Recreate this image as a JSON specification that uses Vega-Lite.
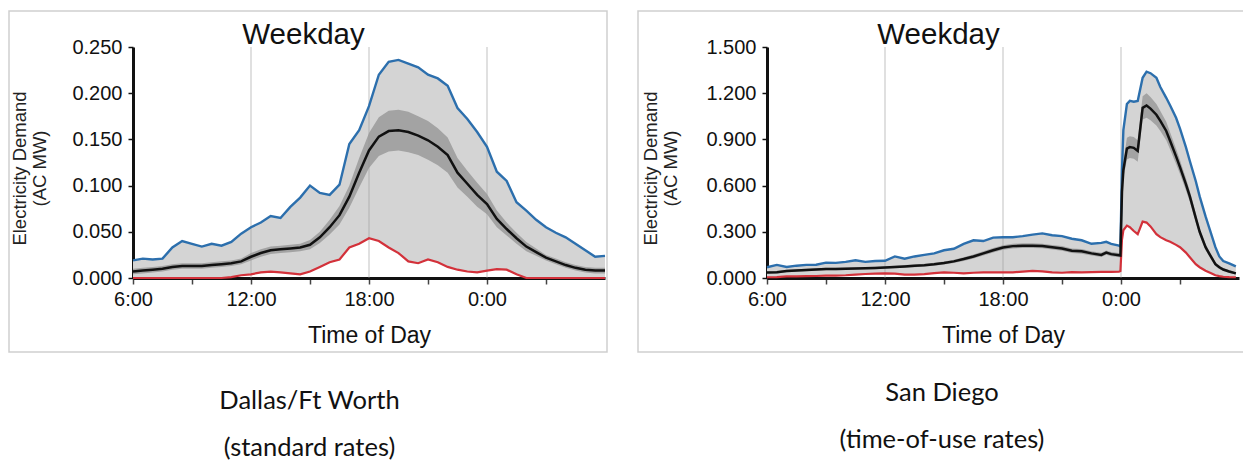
{
  "$schema": "https://vega.github.io/schema/vega-lite/v6.json",
  "padding": {"left": 8, "top": 10, "right": 0, "bottom": 0},
  "spacing": 26,
  "config": {
    "view": {"stroke": "#cfcfcf", "strokeWidth": 1.5},
    "font": "Liberation Sans"
  },
  "datasets": {
    "grid": [{"h": 12}, {"h": 18}, {"h": 24}],
    "dfw": [
      {"h": 6.0, "max": 0.019, "mean": 0.007, "lo": 0.004, "hi": 0.010, "min": 0.000},
      {"h": 6.5, "max": 0.021, "mean": 0.008, "lo": 0.005, "hi": 0.011, "min": 0.000},
      {"h": 7.0, "max": 0.020, "mean": 0.009, "lo": 0.006, "hi": 0.012, "min": 0.000},
      {"h": 7.5, "max": 0.021, "mean": 0.010, "lo": 0.007, "hi": 0.013, "min": 0.000},
      {"h": 8.0, "max": 0.033, "mean": 0.012, "lo": 0.009, "hi": 0.015, "min": 0.000},
      {"h": 8.5, "max": 0.040, "mean": 0.013, "lo": 0.010, "hi": 0.016, "min": 0.000},
      {"h": 9.0, "max": 0.037, "mean": 0.013, "lo": 0.010, "hi": 0.016, "min": 0.000},
      {"h": 9.5, "max": 0.034, "mean": 0.013, "lo": 0.010, "hi": 0.016, "min": 0.000},
      {"h": 10.0, "max": 0.037, "mean": 0.014, "lo": 0.011, "hi": 0.017, "min": 0.000},
      {"h": 10.5, "max": 0.035, "mean": 0.015, "lo": 0.012, "hi": 0.018, "min": 0.000},
      {"h": 11.0, "max": 0.039, "mean": 0.016, "lo": 0.013, "hi": 0.019, "min": 0.001},
      {"h": 11.5, "max": 0.048, "mean": 0.018, "lo": 0.015, "hi": 0.021, "min": 0.003},
      {"h": 12.0, "max": 0.055, "mean": 0.023, "lo": 0.019, "hi": 0.027, "min": 0.004},
      {"h": 12.5, "max": 0.060, "mean": 0.027, "lo": 0.023, "hi": 0.031, "min": 0.006},
      {"h": 13.0, "max": 0.067, "mean": 0.030, "lo": 0.026, "hi": 0.034, "min": 0.007},
      {"h": 13.5, "max": 0.065, "mean": 0.031, "lo": 0.027, "hi": 0.035, "min": 0.006},
      {"h": 14.0, "max": 0.077, "mean": 0.032, "lo": 0.028, "hi": 0.036, "min": 0.005},
      {"h": 14.5, "max": 0.087, "mean": 0.033, "lo": 0.029, "hi": 0.037, "min": 0.004},
      {"h": 15.0, "max": 0.100, "mean": 0.036, "lo": 0.031, "hi": 0.041, "min": 0.007},
      {"h": 15.5, "max": 0.092, "mean": 0.044, "lo": 0.038, "hi": 0.050, "min": 0.012},
      {"h": 16.0, "max": 0.090, "mean": 0.055, "lo": 0.047, "hi": 0.063, "min": 0.017},
      {"h": 16.5, "max": 0.101, "mean": 0.068, "lo": 0.058, "hi": 0.078, "min": 0.020},
      {"h": 17.0, "max": 0.145, "mean": 0.088, "lo": 0.076, "hi": 0.100, "min": 0.033},
      {"h": 17.5, "max": 0.160, "mean": 0.114, "lo": 0.098, "hi": 0.130, "min": 0.037},
      {"h": 18.0, "max": 0.186, "mean": 0.138, "lo": 0.119, "hi": 0.157, "min": 0.043},
      {"h": 18.5, "max": 0.220, "mean": 0.153, "lo": 0.132, "hi": 0.174, "min": 0.040},
      {"h": 19.0, "max": 0.234, "mean": 0.159, "lo": 0.137, "hi": 0.181, "min": 0.033},
      {"h": 19.5, "max": 0.236, "mean": 0.160, "lo": 0.138, "hi": 0.182, "min": 0.027},
      {"h": 20.0, "max": 0.232, "mean": 0.158, "lo": 0.136, "hi": 0.180, "min": 0.018},
      {"h": 20.5, "max": 0.228, "mean": 0.154, "lo": 0.133, "hi": 0.175, "min": 0.016},
      {"h": 21.0, "max": 0.220, "mean": 0.149, "lo": 0.128, "hi": 0.170, "min": 0.020},
      {"h": 21.5, "max": 0.216, "mean": 0.142, "lo": 0.122, "hi": 0.162, "min": 0.017},
      {"h": 22.0, "max": 0.208, "mean": 0.133, "lo": 0.114, "hi": 0.152, "min": 0.012},
      {"h": 22.5, "max": 0.184, "mean": 0.114, "lo": 0.098, "hi": 0.130, "min": 0.009},
      {"h": 23.0, "max": 0.172, "mean": 0.102, "lo": 0.088, "hi": 0.116, "min": 0.007},
      {"h": 23.5, "max": 0.158, "mean": 0.090, "lo": 0.077, "hi": 0.103, "min": 0.006},
      {"h": 24.0, "max": 0.142, "mean": 0.080, "lo": 0.069, "hi": 0.091, "min": 0.008},
      {"h": 24.5, "max": 0.115, "mean": 0.064, "lo": 0.055, "hi": 0.073, "min": 0.0095},
      {"h": 25.0, "max": 0.105, "mean": 0.053, "lo": 0.046, "hi": 0.060, "min": 0.009},
      {"h": 25.5, "max": 0.082, "mean": 0.043, "lo": 0.037, "hi": 0.049, "min": 0.004},
      {"h": 26.0, "max": 0.073, "mean": 0.034, "lo": 0.029, "hi": 0.039, "min": 0.000},
      {"h": 26.5, "max": 0.063, "mean": 0.028, "lo": 0.024, "hi": 0.032, "min": 0.000},
      {"h": 27.0, "max": 0.055, "mean": 0.022, "lo": 0.019, "hi": 0.025, "min": 0.000},
      {"h": 27.5, "max": 0.049, "mean": 0.018, "lo": 0.015, "hi": 0.021, "min": 0.000},
      {"h": 28.0, "max": 0.044, "mean": 0.014, "lo": 0.011, "hi": 0.017, "min": 0.000},
      {"h": 28.5, "max": 0.037, "mean": 0.011, "lo": 0.008, "hi": 0.014, "min": 0.000},
      {"h": 29.0, "max": 0.030, "mean": 0.009, "lo": 0.006, "hi": 0.012, "min": 0.000},
      {"h": 29.5, "max": 0.023, "mean": 0.008, "lo": 0.005, "hi": 0.011, "min": 0.000},
      {"h": 30.0, "max": 0.024, "mean": 0.008, "lo": 0.005, "hi": 0.011, "min": 0.000}
    ],
    "sd": [
      {"h": 6.0, "max": 0.070, "mean": 0.035, "lo": 0.027, "hi": 0.043, "min": 0.005},
      {"h": 6.5, "max": 0.085, "mean": 0.038, "lo": 0.030, "hi": 0.046, "min": 0.006},
      {"h": 7.0, "max": 0.072, "mean": 0.045, "lo": 0.037, "hi": 0.053, "min": 0.010},
      {"h": 7.5, "max": 0.080, "mean": 0.049, "lo": 0.041, "hi": 0.057, "min": 0.010},
      {"h": 8.0, "max": 0.085, "mean": 0.052, "lo": 0.044, "hi": 0.060, "min": 0.012},
      {"h": 8.5, "max": 0.086, "mean": 0.055, "lo": 0.047, "hi": 0.063, "min": 0.013},
      {"h": 9.0, "max": 0.100, "mean": 0.058, "lo": 0.050, "hi": 0.066, "min": 0.015},
      {"h": 9.5, "max": 0.098, "mean": 0.059, "lo": 0.051, "hi": 0.067, "min": 0.016},
      {"h": 10.0, "max": 0.105, "mean": 0.060, "lo": 0.052, "hi": 0.068, "min": 0.018},
      {"h": 10.5, "max": 0.115, "mean": 0.061, "lo": 0.053, "hi": 0.069, "min": 0.022},
      {"h": 11.0, "max": 0.105, "mean": 0.063, "lo": 0.055, "hi": 0.071, "min": 0.026},
      {"h": 11.5, "max": 0.110, "mean": 0.065, "lo": 0.057, "hi": 0.073, "min": 0.028},
      {"h": 12.0, "max": 0.112, "mean": 0.068, "lo": 0.060, "hi": 0.076, "min": 0.030},
      {"h": 12.5, "max": 0.140, "mean": 0.071, "lo": 0.063, "hi": 0.079, "min": 0.028},
      {"h": 13.0, "max": 0.125, "mean": 0.075, "lo": 0.066, "hi": 0.084, "min": 0.022},
      {"h": 13.5, "max": 0.140, "mean": 0.079, "lo": 0.070, "hi": 0.088, "min": 0.022},
      {"h": 14.0, "max": 0.150, "mean": 0.083, "lo": 0.074, "hi": 0.092, "min": 0.025},
      {"h": 14.5, "max": 0.160, "mean": 0.089, "lo": 0.079, "hi": 0.099, "min": 0.032},
      {"h": 15.0, "max": 0.180, "mean": 0.097, "lo": 0.087, "hi": 0.107, "min": 0.036},
      {"h": 15.5, "max": 0.190, "mean": 0.108, "lo": 0.097, "hi": 0.119, "min": 0.034},
      {"h": 16.0, "max": 0.222, "mean": 0.123, "lo": 0.111, "hi": 0.135, "min": 0.030},
      {"h": 16.5, "max": 0.245, "mean": 0.140, "lo": 0.127, "hi": 0.153, "min": 0.034},
      {"h": 17.0, "max": 0.240, "mean": 0.160, "lo": 0.146, "hi": 0.174, "min": 0.036},
      {"h": 17.5, "max": 0.262, "mean": 0.180, "lo": 0.165, "hi": 0.195, "min": 0.036},
      {"h": 18.0, "max": 0.265, "mean": 0.198, "lo": 0.183, "hi": 0.213, "min": 0.036},
      {"h": 18.5, "max": 0.265, "mean": 0.207, "lo": 0.192, "hi": 0.222, "min": 0.036},
      {"h": 19.0, "max": 0.272, "mean": 0.210, "lo": 0.195, "hi": 0.225, "min": 0.042},
      {"h": 19.5, "max": 0.282, "mean": 0.210, "lo": 0.195, "hi": 0.225, "min": 0.046},
      {"h": 20.0, "max": 0.290, "mean": 0.208, "lo": 0.193, "hi": 0.223, "min": 0.043},
      {"h": 20.5, "max": 0.278, "mean": 0.200, "lo": 0.185, "hi": 0.215, "min": 0.036},
      {"h": 21.0, "max": 0.272, "mean": 0.192, "lo": 0.177, "hi": 0.207, "min": 0.034},
      {"h": 21.5, "max": 0.255, "mean": 0.177, "lo": 0.162, "hi": 0.192, "min": 0.038},
      {"h": 22.0, "max": 0.245, "mean": 0.173, "lo": 0.158, "hi": 0.188, "min": 0.036},
      {"h": 22.5, "max": 0.222, "mean": 0.160, "lo": 0.146, "hi": 0.174, "min": 0.038},
      {"h": 23.0, "max": 0.228, "mean": 0.150, "lo": 0.136, "hi": 0.164, "min": 0.040},
      {"h": 23.25, "max": 0.235, "mean": 0.165, "lo": 0.151, "hi": 0.179, "min": 0.040},
      {"h": 23.5, "max": 0.222, "mean": 0.155, "lo": 0.141, "hi": 0.169, "min": 0.040},
      {"h": 23.9, "max": 0.210, "mean": 0.148, "lo": 0.134, "hi": 0.162, "min": 0.042},
      {"h": 23.97, "max": 0.205, "mean": 0.146, "lo": 0.132, "hi": 0.160, "min": 0.045},
      {"h": 24.05, "max": 0.700, "mean": 0.560, "lo": 0.520, "hi": 0.600, "min": 0.250},
      {"h": 24.12, "max": 0.960, "mean": 0.700, "lo": 0.650, "hi": 0.750, "min": 0.310},
      {"h": 24.3, "max": 1.130, "mean": 0.840, "lo": 0.770, "hi": 0.910, "min": 0.340},
      {"h": 24.45, "max": 1.150, "mean": 0.850, "lo": 0.780, "hi": 0.920, "min": 0.330},
      {"h": 24.65, "max": 1.145, "mean": 0.845, "lo": 0.775, "hi": 0.915, "min": 0.305},
      {"h": 24.85, "max": 1.150, "mean": 0.825, "lo": 0.755, "hi": 0.895, "min": 0.285},
      {"h": 25.1, "max": 1.300, "mean": 1.105, "lo": 1.030, "hi": 1.180, "min": 0.366},
      {"h": 25.3, "max": 1.340, "mean": 1.120, "lo": 1.040, "hi": 1.200, "min": 0.360},
      {"h": 25.5, "max": 1.330, "mean": 1.100, "lo": 1.025, "hi": 1.175, "min": 0.335},
      {"h": 25.8, "max": 1.300, "mean": 1.060, "lo": 0.990, "hi": 1.130, "min": 0.285},
      {"h": 26.0, "max": 1.240, "mean": 1.020, "lo": 0.955, "hi": 1.085, "min": 0.265},
      {"h": 26.3, "max": 1.170, "mean": 0.955, "lo": 0.895, "hi": 1.015, "min": 0.245},
      {"h": 26.5, "max": 1.120, "mean": 0.890, "lo": 0.835, "hi": 0.945, "min": 0.235},
      {"h": 26.8, "max": 1.040, "mean": 0.790, "lo": 0.740, "hi": 0.840, "min": 0.215},
      {"h": 27.0, "max": 0.970, "mean": 0.720, "lo": 0.675, "hi": 0.765, "min": 0.200},
      {"h": 27.3, "max": 0.850, "mean": 0.610, "lo": 0.570, "hi": 0.650, "min": 0.165},
      {"h": 27.5, "max": 0.760, "mean": 0.530, "lo": 0.495, "hi": 0.565, "min": 0.135},
      {"h": 27.8, "max": 0.630, "mean": 0.390, "lo": 0.360, "hi": 0.420, "min": 0.090},
      {"h": 28.0, "max": 0.530, "mean": 0.300, "lo": 0.275, "hi": 0.325, "min": 0.070},
      {"h": 28.3, "max": 0.400, "mean": 0.200, "lo": 0.180, "hi": 0.220, "min": 0.047},
      {"h": 28.5, "max": 0.320, "mean": 0.155, "lo": 0.138, "hi": 0.172, "min": 0.035},
      {"h": 28.8, "max": 0.200, "mean": 0.090, "lo": 0.077, "hi": 0.103, "min": 0.018},
      {"h": 29.0, "max": 0.140, "mean": 0.070, "lo": 0.059, "hi": 0.081, "min": 0.012},
      {"h": 29.2, "max": 0.110, "mean": 0.055, "lo": 0.045, "hi": 0.065, "min": 0.008},
      {"h": 29.5, "max": 0.095, "mean": 0.042, "lo": 0.033, "hi": 0.051, "min": 0.006},
      {"h": 29.84, "max": 0.075, "mean": 0.030, "lo": 0.022, "hi": 0.038, "min": 0.005}
    ]
  },
  "hconcat": [
    {
      "title": {"text": ["Dallas/Ft Worth", "(standard rates)"], "orient": "bottom", "anchor": "middle", "frame": "bounds", "offset": 56, "baseline": "alphabetic", "font": "Lato", "fontSize": 25.5, "fontWeight": "normal", "lineHeight": 47, "color": "#111"},
      "vconcat": [
        {
          "width": 598,
          "height": 341,
          "resolve": {"axis": {"x": "independent"}},
          "layer": [
            {
              "data": {"name": "dfw"},
              "mark": {"type": "area", "color": "#d4d4d4"},
              "encoding": {
                "x": {"field": "h", "type": "quantitative", "scale": {"domain": [6, 30], "range": [124, 596], "nice": false, "zero": false},
                  "axis": {"orient": "bottom", "offset": -74, "values": [6, 9, 12, 15, 18, 21, 24, 27], "labelExpr": "datum.value % 6 === 0 ? (datum.value % 24) + ':00' : ''", "title": "Time of Day", "titleFont": "Liberation Sans", "titleFontSize": 23, "titleFontWeight": "normal", "titleColor": "#111", "titleY": 64, "titleBaseline": "alphabetic", "labelFont": "Liberation Sans", "labelFontSize": 20, "labelColor": "#111", "labelPadding": 5, "labelFlush": false, "labelOverlap": false, "tickSize": 6, "tickColor": "#444", "tickWidth": 1.5, "domainColor": "#111", "domainWidth": 3, "grid": false}},
                "y": {"field": "min", "type": "quantitative", "scale": {"domain": [0, 0.25], "range": [267, 36], "nice": false},
                  "axis": {"orient": "left", "offset": -124, "values": [0, 0.05, 0.1, 0.15, 0.2, 0.25], "format": ".3f", "title": ["Electricity Demand", "(AC MW)"], "titleFont": "Liberation Sans", "titleFontSize": 18.5, "titleFontWeight": "normal", "titleColor": "#222", "titleX": -114, "titleY": 157, "titleAngle": -90, "titleAlign": "center", "titleBaseline": "middle", "titleLineHeight": 20, "labelFont": "Liberation Sans", "labelFontSize": 20, "labelColor": "#111", "labelPadding": 6, "labelFlush": false, "tickSize": 5, "tickColor": "#111", "tickWidth": 1.5, "domainColor": "#111", "domainWidth": 3, "grid": false}},
                "y2": {"field": "max"}
              }
            },
            {
              "data": {"name": "dfw"},
              "mark": {"type": "area", "color": "#a3a3a3"},
              "encoding": {
                "x": {"field": "h", "type": "quantitative", "axis": null},
                "y": {"field": "lo", "type": "quantitative"},
                "y2": {"field": "hi"}
              }
            },
            {
              "data": {"name": "grid"},
              "mark": {"type": "rule", "color": "#999999", "opacity": 0.3, "strokeWidth": 2},
              "encoding": {
                "x": {"field": "h", "type": "quantitative",
                  "axis": {"orient": "top", "domain": false, "ticks": false, "labels": false, "grid": false, "title": "Weekday", "titleFont": "Liberation Sans", "titleFontSize": 29.5, "titleFontWeight": "normal", "titleColor": "#111", "titleX": 294, "titleY": 32, "titleAlign": "center", "titleBaseline": "alphabetic"}},
                "y": {"datum": 0, "type": "quantitative"},
                "y2": {"datum": 0.25}
              }
            },
            {
              "data": {"name": "dfw"},
              "mark": {"type": "line", "color": "#2c6fad", "strokeWidth": 2.4},
              "encoding": {
                "x": {"field": "h", "type": "quantitative", "axis": null},
                "y": {"field": "max", "type": "quantitative"}
              }
            },
            {
              "data": {"name": "dfw"},
              "mark": {"type": "line", "color": "#d3313a", "strokeWidth": 2.2},
              "encoding": {
                "x": {"field": "h", "type": "quantitative", "axis": null},
                "y": {"field": "min", "type": "quantitative"}
              }
            },
            {
              "data": {"name": "dfw"},
              "mark": {"type": "line", "color": "#111111", "strokeWidth": 2.5},
              "encoding": {
                "x": {"field": "h", "type": "quantitative", "axis": null},
                "y": {"field": "mean", "type": "quantitative"}
              }
            }
          ]
        }
      ]
    },
    {
      "title": {"text": ["San Diego", "(time-of-use rates)"], "orient": "bottom", "anchor": "middle", "frame": "bounds", "offset": 48, "baseline": "alphabetic", "font": "Lato", "fontSize": 25.5, "fontWeight": "normal", "lineHeight": 47, "color": "#111"},
      "vconcat": [
        {
          "width": 608,
          "height": 341,
          "resolve": {"axis": {"x": "independent"}},
          "layer": [
            {
              "data": {"name": "sd"},
              "mark": {"type": "area", "color": "#d4d4d4"},
              "encoding": {
                "x": {"field": "h", "type": "quantitative", "scale": {"domain": [6, 30], "range": [129, 601], "nice": false, "zero": false},
                  "axis": {"orient": "bottom", "offset": -74, "values": [6, 9, 12, 15, 18, 21, 24, 27], "labelExpr": "datum.value % 6 === 0 ? (datum.value % 24) + ':00' : ''", "title": "Time of Day", "titleFont": "Liberation Sans", "titleFontSize": 23, "titleFontWeight": "normal", "titleColor": "#111", "titleY": 64, "titleBaseline": "alphabetic", "labelFont": "Liberation Sans", "labelFontSize": 20, "labelColor": "#111", "labelPadding": 5, "labelFlush": false, "labelOverlap": false, "tickSize": 6, "tickColor": "#444", "tickWidth": 1.5, "domainColor": "#111", "domainWidth": 3, "grid": false}},
                "y": {"field": "min", "type": "quantitative", "scale": {"domain": [0, 1.5], "range": [267, 36], "nice": false},
                  "axis": {"orient": "left", "offset": -129, "values": [0, 0.3, 0.6, 0.9, 1.2, 1.5], "format": ".3f", "title": ["Electricity Demand", "(AC MW)"], "titleFont": "Liberation Sans", "titleFontSize": 18.5, "titleFontWeight": "normal", "titleColor": "#222", "titleX": -117, "titleY": 157, "titleAngle": -90, "titleAlign": "center", "titleBaseline": "middle", "titleLineHeight": 20, "labelFont": "Liberation Sans", "labelFontSize": 20, "labelColor": "#111", "labelPadding": 6, "labelFlush": false, "tickSize": 5, "tickColor": "#111", "tickWidth": 1.5, "domainColor": "#111", "domainWidth": 3, "grid": false}},
                "y2": {"field": "max"}
              }
            },
            {
              "data": {"name": "sd"},
              "mark": {"type": "area", "color": "#a3a3a3"},
              "encoding": {
                "x": {"field": "h", "type": "quantitative", "axis": null},
                "y": {"field": "lo", "type": "quantitative"},
                "y2": {"field": "hi"}
              }
            },
            {
              "data": {"name": "grid"},
              "mark": {"type": "rule", "color": "#999999", "opacity": 0.3, "strokeWidth": 2},
              "encoding": {
                "x": {"field": "h", "type": "quantitative",
                  "axis": {"orient": "top", "domain": false, "ticks": false, "labels": false, "grid": false, "title": "Weekday", "titleFont": "Liberation Sans", "titleFontSize": 29.5, "titleFontWeight": "normal", "titleColor": "#111", "titleX": 300, "titleY": 32, "titleAlign": "center", "titleBaseline": "alphabetic"}},
                "y": {"datum": 0, "type": "quantitative"},
                "y2": {"datum": 1.5}
              }
            },
            {
              "data": {"name": "sd"},
              "mark": {"type": "line", "color": "#2c6fad", "strokeWidth": 2.4},
              "encoding": {
                "x": {"field": "h", "type": "quantitative", "axis": null},
                "y": {"field": "max", "type": "quantitative"}
              }
            },
            {
              "data": {"name": "sd"},
              "mark": {"type": "line", "color": "#d3313a", "strokeWidth": 2.2},
              "encoding": {
                "x": {"field": "h", "type": "quantitative", "axis": null},
                "y": {"field": "min", "type": "quantitative"}
              }
            },
            {
              "data": {"name": "sd"},
              "mark": {"type": "line", "color": "#111111", "strokeWidth": 2.5},
              "encoding": {
                "x": {"field": "h", "type": "quantitative", "axis": null},
                "y": {"field": "mean", "type": "quantitative"}
              }
            }
          ]
        }
      ]
    }
  ]
}
